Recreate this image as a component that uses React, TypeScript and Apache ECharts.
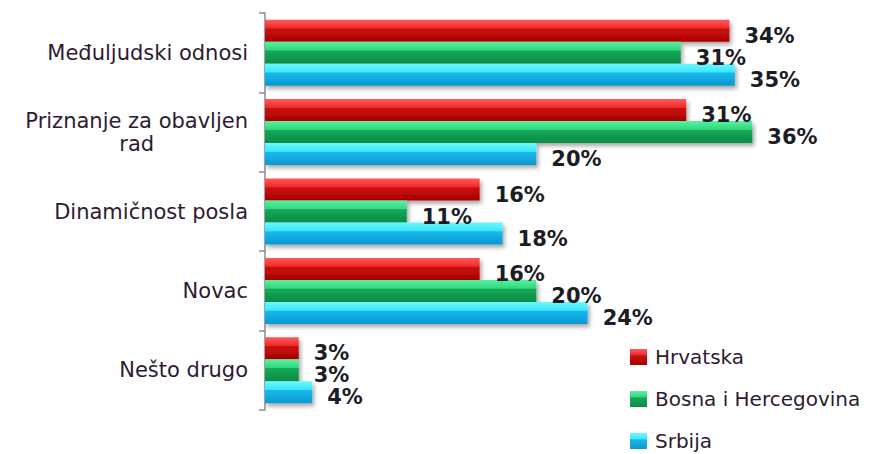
import React, { useEffect, useRef } from "react";
import * as echarts from "echarts";

const categories = [
  "Međuljudski odnosi",
  "Priznanje za obavljen\nrad",
  "Dinamičnost posla",
  "Novac",
  "Nešto drugo",
];
const seriesNames = ["Hrvatska", "Bosna i Hercegovina", "Srbija"];
const hrvatska = [34.4, 31.2, 15.9, 15.9, 2.5];
const bih = [30.8, 36.1, 10.5, 20.1, 2.5];
const srbija = [34.8, 20.1, 17.6, 23.9, 3.5];

const FONT = "'DejaVu Sans', Verdana, sans-serif";

function grad(top: string, mid: string, low: string, bottom: string) {
  return new echarts.graphic.LinearGradient(0, 0, 0, 1, [
    { offset: 0, color: top },
    { offset: 0.38, color: mid },
    { offset: 0.42, color: low },
    { offset: 1, color: bottom },
  ]);
}

export default function App() {
  const ref = useRef<HTMLDivElement>(null);
  useEffect(() => {
    if (!ref.current) return;
    const chart = echarts.init(ref.current, null, { renderer: "svg" });
    const colors = [
      grad("#ff5a5a", "#f02a2a", "#cc1010", "#a80000"),
      grad("#5af0a0", "#30d880", "#14a858", "#0c8c44"),
      grad("#6ef6ff", "#38e8fc", "#18b8ec", "#0c98d0"),
    ];
    const datasets = [hrvatska, bih, srbija];
    chart.setOption({
      animation: false,
      backgroundColor: "#ffffff",
      grid: { left: 265, right: 69, top: 13, bottom: 44, containLabel: false },
      xAxis: {
        type: "value",
        min: 0,
        max: 40,
        show: false,
        splitLine: { show: false },
      },
      yAxis: {
        type: "category",
        inverse: true,
        data: categories,
        axisLine: { show: true, lineStyle: { color: "#8c8c8c", width: 1.5 } },
        axisTick: { show: true, length: 6, lineStyle: { color: "#8c8c8c", width: 1.5 } },
        axisLabel: {
          margin: 17,
          fontFamily: FONT,
          fontSize: 21,
          color: "#2e1a33",
          lineHeight: 23,
          formatter: (v: string) =>
            v
              .split("\n")
              .map((l) => `{c|${l}}`)
              .join("\n"),
          rich: {
            c: {
              align: "center",
              fontFamily: FONT,
              fontSize: 21,
              color: "#2e1a33",
              lineHeight: 23,
            },
          },
        },
      },
      legend: {
        orient: "vertical",
        left: 630,
        top: 347,
        height: 107,
        padding: 0,
        itemGap: 22,
        itemWidth: 17,
        itemHeight: 16,
        icon: "rect",
        data: seriesNames,
        textStyle: {
          fontFamily: FONT,
          fontSize: 20,
          lineHeight: 20,
          color: "#2e1a33",
          padding: [0, 0, 0, 3],
        },
      },
      series: seriesNames.map((name, i) => ({
        name,
        type: "bar",
        data: datasets[i],
        barWidth: 22,
        barGap: "0%",
        itemStyle: {
          color: colors[i],
          shadowColor: "rgba(0,0,0,0.35)",
          shadowBlur: 4,
          shadowOffsetX: 2,
          shadowOffsetY: 3,
        },
        label: {
          show: true,
          position: "right",
          distance: 15,
          offset: [0, 5],
          fontFamily: FONT,
          fontWeight: "bold",
          fontSize: 21,
          color: "#1c1c24",
          formatter: (p: any) => `${Math.round(p.value)}%`,
        },
      })),
    });
    return () => chart.dispose();
  }, []);
  return (
    <div
      ref={ref}
      style={{ position: "absolute", left: 0, top: 0, width: 874, height: 454 }}
    />
  );
}
